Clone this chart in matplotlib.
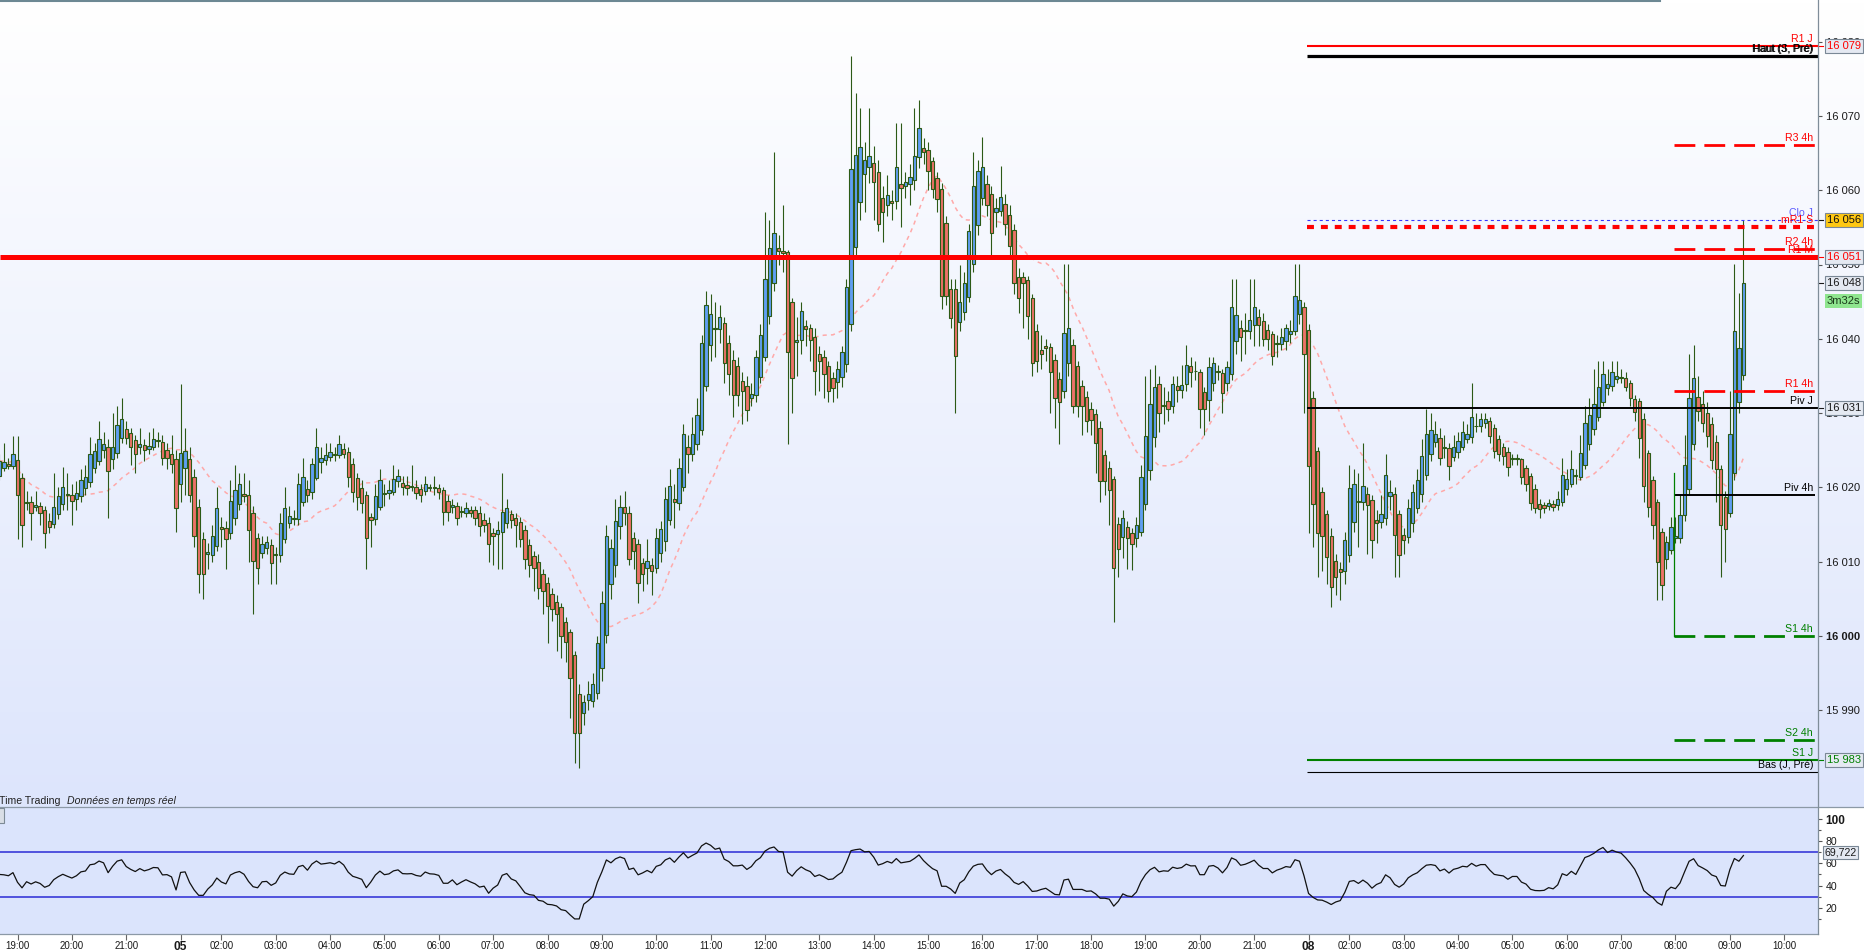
import numpy as np
import pandas as pd
import matplotlib
matplotlib.use("Agg")
import matplotlib.pyplot as plt
from matplotlib.lines import Line2D
from matplotlib.patches import Rectangle
import matplotlib.transforms as mtrans

plt.rcParams['font.family'] = ['Liberation Sans', 'DejaVu Sans']
plt.rcParams['lines.scale_dashes'] = False

BASE = 16000.0   # prices below are points above 16 000

# ---------------- 5-minute candles, session 4 Jan (18:40 - 21:55) ----------------
jan4_open = [21.6,22.6,23.1,22.9,23.7,21.3,17.9,18.0,17.3,17.5,16.9,15.5,15.1,16.4,17.7,19.0,19.0,18.5,18.8,19.9,
             20.7,22.6,23.6,25.0,25.5,23.8,24.6,26.6,27.8,27.3,26.4,25.4,25.7,25.2,25.5,26.2,26.1,25.0,24.5,23.8]
jan4_high = [24.5,26.0,24.0,26.9,26.9,22.0,19.5,18.8,19.5,18.0,17.5,16.5,21.9,20.0,22.8,21.9,20.5,20.8,22.5,23.0,
             26.8,26.0,28.9,27.5,26.5,30.0,30.9,32.0,29.0,28.0,27.0,28.0,26.5,27.5,28.0,27.5,27.0,26.0,27.0,25.0]
jan4_low = [21.0,22.2,22.5,22.5,13.0,12.0,17.0,12.9,16.8,15.0,11.9,13.8,14.5,15.8,17.0,17.0,15.0,17.0,18.0,19.0,
            20.0,22.0,23.0,24.0,15.9,22.5,24.0,26.0,25.8,23.0,22.0,24.5,23.5,24.5,25.0,25.5,23.0,22.5,22.0,14.0]
jan4_close = [23.6,23.4,22.9,24.5,19.0,15.0,18.1,16.5,17.6,16.5,13.9,14.7,17.4,18.9,20.1,19.1,18.2,19.2,21.0,21.4,
              24.5,24.9,26.5,25.9,22.2,25.4,28.4,29.2,26.6,25.4,24.5,25.9,25.0,25.6,26.5,26.4,23.9,24.0,23.2,17.2]

# ---------------- session 5 Jan (01:15 - 21:55) ----------------
jan5_open = [20.5,22.6,23.8,21.4,17.4,13.0,11.0,10.9,12.1,14.7, 14.6,13.8,15.9,17.8,19.1,19.0,16.6,13.2,11.2,11.9,
             12.2,10.9,10.9,13.0,15.2,15.7,15.8,18.1,19.8,19.4, 21.3,23.4,23.7,24.1,24.5,24.4,25.2,24.7,23.1,21.3,
             19.9,19.0,16.0,15.8,17.4,19.1,19.2,19.4,20.9,20.6, 20.3,20.1,20.1,19.8,19.5,19.9,19.9,19.9,19.6,18.2,
             17.4,17.5,16.7,16.6,16.9,16.9,16.5,15.6,15.2,13.9, 13.7,14.0,15.2,16.4,15.9,15.4,14.2,12.3,10.8,10.0,
             8.3,7.1,5.6,4.6,3.9,1.9,0.5,-2.6,-7.8,-10.4, -8.6,-8.7,-7.7,-4.3,0.1,7.0,9.6,14.8,17.3,16.5,
             13.2,12.4,9.8,9.2,9.5,9.2,11.2,12.8,15.6,18.4, 17.9,20.1,25.5,24.5,25.8,27.7,33.7,39.2,41.3,41.3,
             42.1,39.4,37.2,36.3,34.3,33.6,32.0,32.4,34.9,37.5, 43.1,47.5,52.2,51.8,51.7,44.9,39.6,39.8,41.7,41.4,
             40.2,37.9,37.6,36.3,34.7,34.2,34.9,36.6,42.0,52.3, 58.4,62.2,63.1,63.7,62.4,59.0,58.0,58.6,58.6,60.8,
             60.5,60.9,61.4,64.5,65.7,65.4,63.9,61.6,60.2,55.6, 46.7,46.7,42.2,43.6,45.6,50.1,55.3,58.9,60.9,59.5,
             57.0,57.2,58.1,56.7,54.7,48.3,48.3,47.9,45.5,41.0, 38.5,39.0,38.9,37.1,34.6,33.0,36.8,39.2,36.3,33.6,
             32.2,30.6,29.9,28.0,24.4,22.6,21.1,15.1,13.3,14.7, 13.8,13.2,14.0,17.8,22.3,26.8,33.9,31.0,31.6,31.0,
             33.7,33.1,33.9,36.4,35.6,35.5,32.9,31.8,34.0,35.5, 35.4,34.0,35.2,39.7,41.4,41.0,41.0,41.8,42.9,42.4,
             41.2,40.6,39.3,39.3,39.7,40.6,41.0,43.3,44.3]
jan5_high = [33.9,28.0,25.5,22.5,18.5,14.0,12.5,15.0,20.0,16.0, 15.5,21.0,23.0,22.0,22.0,21.0,17.5,13.8,13.5,13.5,
             13.0,12.0,16.5,20.0,17.5,17.0,22.0,24.0,21.0,24.0, 28.0,25.5,26.0,26.0,25.5,27.0,26.0,25.5,24.0,22.0,
             21.0,19.5,16.5,20.5,22.5,20.5,21.0,23.0,22.5,21.5, 21.5,23.0,21.0,20.5,21.5,20.5,21.5,20.5,20.0,19.0,
             18.5,18.0,17.5,18.0,17.5,17.5,17.5,16.5,16.0,14.5, 15.5,22.0,18.5,17.0,16.5,16.0,15.0,13.0,11.5,11.0,
             9.0,8.0,6.5,5.5,4.5,2.5,1.0,-2.0,-6.5,-8.0, -6.0,-5.0,0.0,6.0,15.0,13.0,18.5,19.0,19.5,17.5,
             14.0,13.0,10.5,13.0,10.5,14.5,15.5,20.0,22.5,20.5, 24.0,28.5,27.0,29.5,32.0,40.5,46.5,46.0,45.0,44.5,
             43.0,40.5,38.5,37.5,35.5,35.0,34.0,38.5,42.0,57.1, 56.0,65.2,54.0,58.0,52.0,45.5,43.0,45.0,42.5,42.0,
             41.5,39.0,38.5,37.0,35.5,37.0,39.0,48.0,78.1,73.1, 71.1,66.5,71.0,66.0,64.0,60.5,62.0,60.0,69.0,69.0,
             62.5,63.5,71.1,72.2,67.0,66.5,64.5,62.5,61.0,56.5, 48.0,48.0,50.0,49.0,55.5,65.2,64.0,67.1,62.0,60.5,
             59.0,63.2,59.5,58.0,55.5,49.5,49.0,48.5,46.0,42.0, 40.5,40.0,39.5,38.0,35.5,50.1,50.1,40.0,37.0,34.5,
             33.0,31.5,30.5,29.0,25.0,23.5,21.5,16.0,17.0,15.5, 14.5,16.0,23.0,35.0,36.0,36.5,35.0,33.5,33.0,35.0,
             35.0,36.5,39.1,37.5,37.0,36.0,33.5,37.5,37.5,36.5, 36.0,37.0,48.1,48.1,42.5,43.5,48.1,48.1,44.0,43.5,
             42.0,41.0,40.5,41.5,42.0,42.5,50.1,50.1,45.0]
jan5_low = [18.0,19.0,18.0,12.0,5.8,5.0,9.0,10.0,11.5,12.0, 9.0,13.0,15.0,17.0,18.0,10.0,3.0,7.0,10.5,11.0,
            7.0,7.0,10.0,12.5,14.5,15.0,15.0,17.5,18.0,18.5, 21.0,22.0,23.0,23.5,23.5,24.0,24.0,20.0,18.0,17.0,
            16.5,9.0,12.0,15.0,17.0,17.5,18.5,19.0,20.0,19.0, 19.0,19.5,18.5,18.0,19.0,19.5,19.0,18.5,15.0,15.5,
            16.5,15.0,16.0,16.0,16.0,15.0,13.5,14.0,10.0,9.5, 9.0,9.0,14.5,14.5,12.0,12.0,9.0,8.0,6.0,5.0,
            3.0,-1.0,2.0,-2.0,-3.0,-3.5,-11.0,-17.1,-17.8,-12.0, -10.0,-9.5,-8.5,-6.0,-1.0,5.0,8.0,13.0,15.0,9.5,
            9.0,4.5,6.0,7.0,5.5,8.5,10.0,11.5,15.0,14.5, 17.0,19.5,22.0,23.5,25.0,27.0,33.0,37.0,37.5,39.5,
            34.0,32.5,29.5,31.0,28.5,29.0,31.0,31.5,34.0,37.0, 42.0,46.5,50.0,49.0,25.9,30.0,35.0,38.0,39.0,37.0,
            32.5,33.0,32.0,31.5,31.5,32.0,33.5,35.5,41.0,51.0, 56.0,57.0,61.0,56.0,54.5,53.0,56.5,56.0,57.5,55.0,
            59.0,58.0,60.0,63.0,63.5,60.0,59.0,57.0,44.0,44.5, 41.5,30.0,41.0,42.5,45.0,49.0,54.0,58.0,56.5,51.0,
            55.0,56.5,54.0,51.0,46.0,43.5,41.5,40.0,35.0,35.5, 36.0,37.0,30.0,28.0,25.9,32.0,35.0,30.0,29.5,27.0,
            27.5,27.0,22.0,18.0,19.0,15.0,1.9,8.0,10.5,9.0, 8.9,12.0,13.5,17.0,21.0,25.5,27.5,28.5,29.0,30.0,
            31.5,32.0,33.0,33.5,34.5,28.0,27.0,29.0,33.0,34.5, 30.0,33.0,34.5,38.0,37.0,38.0,40.0,39.0,39.0,39.0,
            38.5,36.5,37.5,38.5,38.5,39.5,40.5,42.0,30.0]
jan5_close = [24.6,24.9,19.0,13.5,8.4,8.4,11.3,13.4,17.2,14.4, 13.0,18.2,19.7,20.5,18.9,14.2,10.1,9.2,12.4,12.6,
              9.8,11.0,15.2,17.2,16.1,15.9,20.5,21.4,19.0,23.1, 25.4,23.9,24.3,24.8,24.3,25.9,24.5,21.4,19.4,18.7,
              17.9,13.2,15.6,18.9,21.0,19.2,19.6,21.1,21.6,20.0, 19.9,20.0,19.3,19.0,20.5,19.9,19.8,19.4,16.7,16.7,
              17.6,15.9,16.6,17.2,16.5,15.9,14.8,15.0,12.4,13.5, 14.2,16.7,17.2,15.6,15.0,13.0,10.4,9.5,9.2,6.5,
              6.0,4.0,3.7,2.9,0.0,-0.8,-5.7,-13.0,-13.0,-8.9, -7.8,-6.5,-1.0,4.5,13.5,11.9,15.5,17.3,16.5,10.4,
              11.4,7.1,8.4,10.1,8.7,13.2,14.4,18.4,20.2,18.0, 22.6,27.2,24.5,27.2,29.8,39.4,44.6,43.4,41.3,43.0,
              36.7,35.2,32.4,32.4,33.0,30.4,32.6,37.5,40.5,48.1, 52.2,54.2,51.8,51.6,38.2,34.7,39.8,43.7,41.3,39.8,
              35.6,37.0,35.3,33.0,33.4,36.0,38.2,47.0,62.9,64.7, 65.8,64.0,64.6,61.1,55.5,57.0,59.4,58.3,63.1,60.3,
              61.1,61.8,64.6,68.4,65.2,62.6,60.2,58.8,45.7,45.7, 42.8,37.7,44.9,47.5,54.5,60.5,62.6,63.1,58.0,54.2,
              57.6,59.1,55.5,52.5,47.5,45.5,47.5,43.1,36.7,37.0, 38.0,38.7,35.5,32.0,31.5,40.8,41.4,30.9,30.9,30.9,
              28.9,29.1,26.0,20.8,20.8,19.7,9.2,11.7,15.9,13.2, 12.4,14.9,21.4,26.9,31.2,33.5,30.0,30.9,30.6,33.9,
              33.1,33.8,36.5,35.5,35.6,30.5,30.5,36.2,36.7,35.4, 32.7,36.2,44.3,43.2,40.2,41.0,42.5,44.3,41.8,40.0,
              40.0,37.7,39.3,40.2,41.4,41.1,45.8,45.2,38.0]

# ---------------- session 8 Jan (01:15 - 09:15) ----------------
jan8_open = [41.2,32.0,24.9,19.4,16.4,13.5,10.1,9.0,8.7,10.9, 15.3,18.0,18.0,19.1,18.3,15.6,15.3,15.9,18.8,19.1,
             16.4,13.6,13.3,15.2,17.2,19.1,21.7,24.5,26.1,26.6, 25.3,25.3,24.1,24.8,25.4,26.5,26.8,28.2,28.2,28.7,
             28.9,28.0,26.5,25.4,24.8,23.8,23.8,23.8,22.6,21.5, 19.8,17.8,17.6,17.5,17.8,17.6,18.0,19.8,20.5,21.5,
             21.4,23.0,25.8,27.9,29.5,31.5,33.4,33.6,34.6,34.7, 34.7,34.0,31.9,31.6,29.2,24.6,21.0,18.0,14.0,10.4,
             11.6,13.2,13.2,16.3,19.8,25.8,32.2,31.2,30.0,28.5, 26.1,22.5,18.7,16.6,21.9,31.5,35.1]
jan8_high = [42.0,33.0,25.5,20.0,17.0,14.5,11.0,10.0,14.0,23.0, 22.5,22.0,26.0,20.0,19.0,17.0,19.0,24.5,21.0,20.0,
             17.0,14.5,18.5,20.5,22.5,26.5,30.5,30.0,29.0,28.0, 27.0,26.0,27.0,27.5,29.0,28.5,34.0,30.0,30.0,30.0,
             29.5,28.5,27.0,26.0,25.5,24.5,24.5,24.0,23.0,22.0, 20.5,18.5,18.0,18.5,18.3,19.5,24.0,22.5,25.0,22.5,
             27.0,31.0,32.0,36.0,37.0,37.0,36.0,37.0,37.0,36.0, 35.5,34.5,32.5,32.0,30.0,25.0,21.5,18.5,14.5,13.5,
             16.0,16.0,19.0,27.0,38.0,39.1,35.0,33.0,31.5,29.5, 27.0,23.0,19.5,33.0,50.1,46.1,56.0]
jan8_low = [13.9,12.0,8.0,8.8,7.0,3.9,5.5,4.8,7.0,10.0, 14.0,12.0,17.0,11.0,10.5,12.5,14.5,15.0,17.0,7.9,
            7.9,11.0,12.5,14.0,16.5,18.0,21.0,23.5,25.5,23.0, 24.0,21.0,23.5,24.0,25.0,26.0,26.0,27.5,27.5,28.0,
            26.0,24.0,23.5,23.0,21.5,23.0,23.0,20.5,19.5,17.0, 16.5,15.9,16.5,17.0,16.8,17.0,17.5,19.0,20.0,20.5,
            21.0,22.5,25.0,27.0,29.0,31.0,32.5,33.0,34.0,34.0, 33.0,31.0,29.0,24.0,18.0,16.0,13.0,4.8,4.8,9.0,
            11.0,12.5,12.5,15.5,19.0,25.0,29.0,27.5,25.5,22.5, 18.0,7.9,10.0,16.0,21.0,30.0,34.5]
jan8_close = [22.9,17.7,13.9,13.5,10.6,6.6,7.9,8.6,12.9,19.9, 20.5,18.0,20.2,17.6,12.9,15.2,16.4,21.7,19.4,13.6,
              10.9,12.9,17.2,19.4,21.0,24.2,27.2,27.7,27.2,24.0, 25.3,22.9,25.4,26.2,27.5,27.2,29.5,28.2,29.2,29.2,
              26.9,24.9,24.5,24.2,22.7,23.8,23.8,21.4,20.5,17.9, 17.2,17.1,17.2,17.9,17.4,18.4,21.7,21.1,22.5,21.5,
              24.6,28.7,29.7,31.2,33.5,35.3,33.9,35.5,35.0,34.7, 33.5,32.0,30.1,26.6,20.2,17.4,14.9,10.0,6.9,12.7,
              14.7,13.5,16.3,23.0,32.0,34.7,30.3,28.7,26.9,23.7, 22.5,14.9,14.4,27.2,41.0,38.7,47.5]

session_starts = ["2024-01-04 18:40", "2024-01-05 01:15", "2024-01-08 01:15"]

# ---------------- levels drawn on the right ----------------
level_names = ["R1 J", "Haut (S, Pré)", "R3 4h", "Clo J", "mR1 S", "R2 4h", "R1 M",
               "R1 4h", "Piv J", "Piv 4h", "S1 4h", "S2 4h", "S1 J", "Bas (J, Pré)"]
level_values = [16079.4, 16078.1, 16066.1, 16056.0, 16055.05, 16052.1, 16051.0,
                16033.0, 16030.7, 16019.0, 16000.0, 15986.05, 15983.3, 15981.7]
extra_label = ("Haut (J, Pré)", 16078.1)
box_texts = ["16 079", "16 056", "16 051", "16 048", "16 031", "15 983"]
box_values = [16079.4, 16056.0, 16051.0, 16047.5, 16030.7, 15983.3]
countdown_text = "3m32s"
rsi_box_text = "69,722"
rsi_box_value = 69.722
price_ticks = [15990, 16000, 16010, 16020, 16030, 16040, 16050, 16060, 16070, 16080]
rsi_ticks = [20, 40, 60, 80, 100]
s1_4h_step_from = 16022.0
RSI_PERIOD = 14
MA_PERIOD = 20

# ---------------- assemble ----------------
opens = BASE + np.array(jan4_open + jan5_open + jan8_open)
highs = BASE + np.array(jan4_high + jan5_high + jan8_high)
lows = BASE + np.array(jan4_low + jan5_low + jan8_low)
closes = BASE + np.array(jan4_close + jan5_close + jan8_close)
highs = np.maximum(highs, np.maximum(opens, closes))
lows = np.minimum(lows, np.minimum(opens, closes))
n = len(closes)
x = np.arange(n)

times = []
for start, block in zip(session_starts, [jan4_close, jan5_close, jan8_close]):
    times += list(pd.date_range(start, periods=len(block), freq="5min"))
future = list(pd.date_range(times[-1] + pd.Timedelta("5min"), periods=24, freq="5min"))
all_times = times + future

# indicators derived from the closes
ma = pd.Series(closes).rolling(MA_PERIOD, min_periods=1).mean().values
delta = np.diff(closes, prepend=closes[0])
seed = np.mean(np.abs(delta[1:])) / 2
avg_g, avg_l = seed, seed
rsi = []
for dv in delta:
    avg_g = (avg_g * (RSI_PERIOD - 1) + max(dv, 0)) / RSI_PERIOD
    avg_l = (avg_l * (RSI_PERIOD - 1) + max(-dv, 0)) / RSI_PERIOD
    rsi.append(100 - 100 / (1 + avg_g / avg_l))
rsi = np.array(rsi)

# ---------------- figure geometry (pixels) ----------------
W, H = 1864, 952
MAIN_BOTTOM, RSI_BOTTOM, PLOT_RIGHT = 807, 934, 1818
PX_PER_BAR, X19 = 4.53, 17.5
xl = (4 - X19 / PX_PER_BAR, 4 + (PLOT_RIGHT - X19) / PX_PER_BAR)
yl = (16000 - (MAIN_BOTTOM - 636) / 7.43, 16000 + 636 / 7.43)

def fx(px):
    return px / W

def fy(py):
    return 1 - py / H

fig = plt.figure(figsize=(W / 100, H / 100), dpi=100)
fig.patch.set_facecolor('white')

# gradient background of the price panel
bg = fig.add_axes([0, fy(MAIN_BOTTOM), 1, MAIN_BOTTOM / H])
top = np.array([255, 255, 255]) / 255
bot = np.array([221, 229, 252]) / 255
grad = top + np.linspace(0, 1, 256)[:, None, None] * (bot - top)
bg.imshow(grad, aspect='auto', extent=[0, 1, 0, 1], origin='upper')
bg.axis('off')

ax = fig.add_axes([0, fy(MAIN_BOTTOM), PLOT_RIGHT / W, MAIN_BOTTOM / H])
ax.patch.set_alpha(0)
for s in ax.spines.values():
    s.set_visible(False)
ax.set_xlim(*xl)
ax.set_ylim(*yl)
ax.set_xticks([])

UP, DOWN, EDGE = '#5f9ef2', '#ec7268', '#2c5a16'
ax.plot(x, ma, color='#ffa9a9', lw=1.1, ls=(0, (3, 3)), zorder=1.5)
ax.vlines(x, lows, highs, color=EDGE, lw=0.8, zorder=2)
body = closes - opens
body = np.where(np.abs(body) < 0.12, 0.12, body)
ax.bar(x, body, bottom=opens, width=0.74, color=np.where(closes >= opens, UP, DOWN),
       edgecolor=EDGE, linewidth=0.8, zorder=3)

# level lines
day_start = next(i for i, t in enumerate(times) if t.date() == pd.Timestamp(session_starts[2]).date())
h4_start = next(i for i, t in enumerate(times) if t == pd.Timestamp("2024-01-08 08:00"))
xs_day, xs_4h, xe_4h = day_start - 0.35, h4_start - 0.35, xl[1] - 3 / PX_PER_BAR
RED, GREEN = '#ff0000', '#008000'
dash4h = (0, (15, 6.5))
styles = {
    "R1 J": (RED, 1.5, '-', 'day', RED),
    "Haut (S, Pré)": ('black', 2.3, '-', 'day', 'black'),
    "R3 4h": (RED, 2.0, dash4h, '4h', RED),
    "Clo J": ('#3535ff', 0.8, (0, (2.2, 2.2)), 'day', '#5a5aff'),
    "mR1 S": (RED, 3.0, (0, (5, 5)), 'day', RED),
    "R2 4h": (RED, 2.0, dash4h, '4h', RED),
    "R1 M": (RED, 3.6, '-', 'all', RED),
    "R1 4h": (RED, 2.0, dash4h, '4h', RED),
    "Piv J": ('black', 1.4, '-', 'day', 'black'),
    "Piv 4h": ('black', 1.4, '-', '4h', 'black'),
    "S1 4h": (GREEN, 2.0, dash4h, '4h', GREEN),
    "S2 4h": (GREEN, 2.0, dash4h, '4h', GREEN),
    "S1 J": (GREEN, 1.5, '-', 'day', GREEN),
    "Bas (J, Pré)": ('black', 0.8, '-', 'day', 'black'),
}
span_x = {'day': (xs_day, xl[1]), '4h': (xs_4h, xe_4h), 'all': xl}
label_tr = mtrans.blended_transform_factory(ax.transAxes, ax.transData)
LABEL_X = 1813 / PLOT_RIGHT
for name, val in zip(level_names, level_values):
    col, lw, ls, span, tcol = styles[name]
    x0, x1 = span_x[span]
    ax.plot([x0, x1], [val, val], color=col, lw=lw, ls=ls, zorder=4,
            solid_capstyle='butt', dash_capstyle='butt')
    ax.annotate(name, xy=(LABEL_X, val), xycoords=label_tr, xytext=(0, 5), textcoords='offset points',
                ha='right', va='center', fontsize=7.6, color=tcol, zorder=6)
ax.annotate(extra_label[0], xy=(LABEL_X, extra_label[1]), xycoords=label_tr, xytext=(0, 5),
            textcoords='offset points', ha='right', va='center', fontsize=7.6, color='black', zorder=6)
ax.plot([xs_4h, xs_4h], [16000.0, s1_4h_step_from], color=GREEN, lw=0.9, zorder=4)

# price axis
ax.yaxis.tick_right()
ax.set_yticks(price_ticks, [f"{v:,}".replace(',', ' ') for v in price_ticks])
ax.tick_params(axis='y', direction='out', length=3, width=0.8, color='#555555',
               labelsize=8, pad=2.5, labelcolor='#1a1a1a')
for lab in ax.get_yticklabels():
    if lab.get_text() == '16 000':
        lab.set_fontweight('bold')

# value boxes at the right
box_style = {
    "16 079": (RED, '#e4e9f2', '#7a8896'),
    "16 056": ('#111111', '#ffc812', '#7a8896'),
    "16 051": (RED, '#e4e9f2', '#7a8896'),
    "16 048": ('#1a1a1a', '#e4e9f2', '#7a8896'),
    "16 031": ('#1a1a1a', '#e4e9f2', '#7a8896'),
    "15 983": (GREEN, '#e4e9f2', '#7a8896'),
}
for txt, val in zip(box_texts, box_values):
    tc, fc, ec = box_style[txt]
    ax.annotate(txt, xy=(1, val), xycoords=label_tr, xytext=(6.2, 0), textcoords='offset points',
                ha='left', va='center', fontsize=8, color=tc, zorder=8, annotation_clip=False,
                bbox=dict(boxstyle='square,pad=0.18', fc=fc, ec=ec, lw=0.8))
    ax.plot([1, 1 + 5 / PLOT_RIGHT], [val, val], transform=label_tr, color=tc, lw=0.8,
            clip_on=False, zorder=8)
ax.annotate(countdown_text, xy=(1, box_values[3]), xycoords=label_tr, xytext=(6.2, -13),
            textcoords='offset points', ha='left', va='center', fontsize=8, color='#1a3a1a',
            zorder=8, annotation_clip=False,
            bbox=dict(boxstyle='square,pad=0.18', fc='#8fe58f', ec='none'))

# ---------------- RSI panel ----------------
rax = fig.add_axes([0, fy(RSI_BOTTOM), PLOT_RIGHT / W, (RSI_BOTTOM - MAIN_BOTTOM) / H])
rax.set_facecolor('#dbe4fc')
for s in rax.spines.values():
    s.set_visible(False)
rax.set_xlim(*xl)
rax.set_ylim(100 - (RSI_BOTTOM - 819) / 1.109, 100 + (819 - MAIN_BOTTOM) / 1.109)
rax.axhline(70, color='#2a2ad6', lw=1.1, zorder=2)
rax.axhline(30, color='#2a2ad6', lw=1.1, zorder=2)
rax.plot(x, rsi, color='#111111', lw=0.9, zorder=3)
rax.yaxis.tick_right()
rax.set_yticks(rsi_ticks, [str(v) for v in rsi_ticks])
rax.set_yticks([10, 30, 50, 70, 90], minor=True)
rax.tick_params(axis='y', which='major', direction='out', length=3, width=0.8, color='#555555',
                labelsize=7.6, pad=2.5, labelcolor='#1a1a1a')
rax.tick_params(axis='y', which='minor', direction='out', length=2.5, width=0.8, color='#555555')
for lab in rax.get_yticklabels():
    if lab.get_text() == '100':
        lab.set_fontweight('bold')
        lab.set_fontsize(8.5)
rtr = mtrans.blended_transform_factory(rax.transAxes, rax.transData)
rax.annotate(rsi_box_text, xy=(1, rsi_box_value), xycoords=rtr, xytext=(4.5, 0), textcoords='offset points',
             ha='left', va='center', fontsize=7.6, color='#1a1a1a', zorder=8, annotation_clip=False,
             bbox=dict(boxstyle='square,pad=0.15', fc='#e4e9f2', ec='#7a8896', lw=0.8))

# time axis
tick_pos, tick_lab, tick_bold = [], [], []
for i, t in enumerate(all_times):
    if i > xl[1]:
        break
    if i > 0 and t.date() != all_times[i - 1].date():
        tick_pos.append(i); tick_lab.append(t.strftime('%d')); tick_bold.append(True)
    elif t.minute == 0:
        tick_pos.append(i); tick_lab.append(t.strftime('%H:%M')); tick_bold.append(False)
rax.set_xticks(tick_pos, tick_lab)
rax.tick_params(axis='x', direction='out', length=4, width=0.8, color='#666666',
                labelsize=7, pad=0.8, labelcolor='#1a1a1a')
for lab, b in zip(rax.get_xticklabels(), tick_bold):
    if b:
        lab.set_fontweight('bold')
        lab.set_fontsize(8.6)

# ---------------- frame lines and texts ----------------
def hline_px(x0, x1, y, color, lw):
    fig.add_artist(Line2D([fx(x0), fx(x1)], [fy(y), fy(y)], transform=fig.transFigure, color=color, lw=lw))

hline_px(0, 1660, 0.8, '#6c8893', 1.5)
hline_px(0, W, MAIN_BOTTOM, '#8c99a6', 0.9)
hline_px(0, PLOT_RIGHT, RSI_BOTTOM, '#8c99a6', 0.9)
fig.add_artist(Line2D([fx(PLOT_RIGHT), fx(PLOT_RIGHT)], [fy(0), fy(RSI_BOTTOM)], transform=fig.transFigure,
                      color='#7f8d99', lw=0.9))
fig.add_artist(Rectangle((fx(-3), fy(823)), fx(7), 15 / H, transform=fig.transFigure,
                         fc='#d9dee6', ec='#7d8a95', lw=0.8))
fig.text(fx(-1), fy(801), "Time Trading", ha='left', va='center', fontsize=7.6, color='#222222')
fig.text(fx(67), fy(801), "Données en temps réel", ha='left', va='center', fontsize=7.6,
         color='#222222', style='italic')

fig.savefig("out.png", dpi=100)
